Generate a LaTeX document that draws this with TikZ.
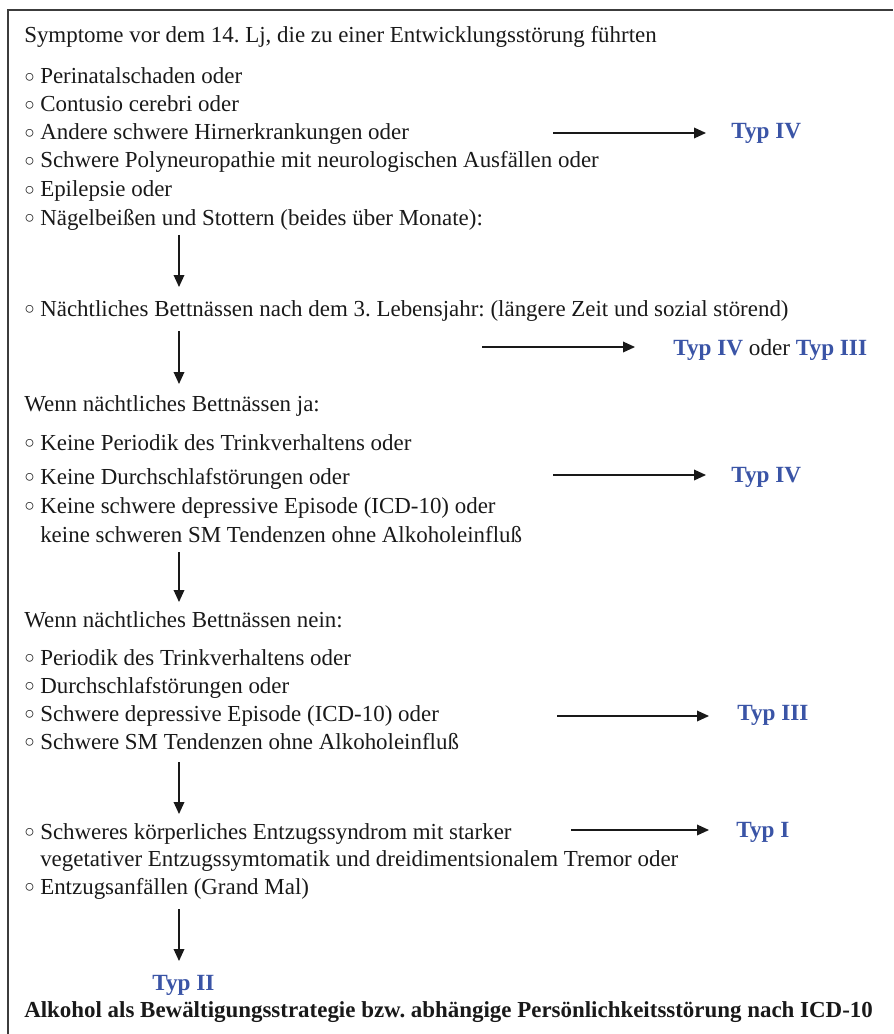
\documentclass[tikz,border=0pt]{standalone}
\usepackage{fontspec}
\setmainfont{Liberation Serif}
\usetikzlibrary{arrows.meta}
\frenchspacing
\definecolor{typblue}{RGB}{58,84,166}
\definecolor{framegray}{RGB}{60,60,60}
\newcommand{\bul}{\makebox[12pt][l]{\raisebox{0.8pt}{\fontsize{13pt}{13pt}\selectfont ○}}}
\tikzset{
  txt/.style={anchor=base west, inner sep=0pt, font=\fontsize{17.2pt}{20pt}\selectfont, text=black!90},
  bold/.style={txt, font=\fontsize{17.2pt}{20pt}\selectfont\bfseries},
  typ/.style={anchor=west, inner sep=0pt, font=\fontsize{17.4pt}{20pt}\selectfont\bfseries, text=typblue},
  arr/.style={draw=black!90, line width=1pt, -{Triangle[length=9pt,width=8pt]}},
  frame/.style={draw=framegray, line width=1.3pt}
}
\begin{document}
\begin{tikzpicture}[x=0.75pt,y=-0.75pt]
\useasboundingbox (0,0) rectangle (893,1034);
\draw[frame] (8,1034) -- (8,10) -- (893,10);

\node[txt] (title) at (24,43) {Symptome vor dem 14. Lj, die zu einer Entwicklungsstörung führten};
\node[txt] (i1) at (24,84) {\bul Perinatalschaden oder};
\node[txt] (i2) at (24,112) {\bul Contusio cerebri oder};
\node[txt] (i3) at (24,140) {\bul Andere schwere Hirnerkrankungen oder};
\node[txt] (i4) at (24,168) {\bul Schwere Polyneuropathie mit neurologischen Ausfällen oder};
\node[txt] (i5) at (24,197) {\bul Epilepsie oder};
\node[txt] (i6) at (24,225) {\bul Nägelbeißen und Stottern (beides über Monate):};

\node[typ] (t1) at (731,133) {Typ IV};
\coordinate (h1s) at (553,133);
\coordinate (h1e) at (706,133);
\draw[arr] (h1s) -- (h1e);

\coordinate (v1s) at (179,235);
\coordinate (v1e) at (179,287);
\draw[arr] (v1s) -- (v1e);

\node[txt] (b1) at (24,316) {\bul Nächtliches Bettnässen nach dem 3. Lebensjahr: (längere Zeit und sozial störend)};

\coordinate (h2s) at (482,347);
\coordinate (h2e) at (635,347);
\draw[arr] (h2s) -- (h2e);
\node[typ] (t2) at (673,350) {Typ IV \textcolor{black!90}{\mdseries oder} Typ III};

\coordinate (v2s) at (179,331);
\coordinate (v2e) at (179,384);
\draw[arr] (v2s) -- (v2e);

\node[txt] (ja) at (24,411) {Wenn nächtliches Bettnässen ja:};
\node[txt] (j1) at (24,450) {\bul Keine Periodik des Trinkverhaltens oder};
\node[txt] (j2) at (24,484) {\bul Keine Durchschlafstörungen oder};
\node[txt] (j3) at (24,513) {\bul Keine schwere depressive Episode (ICD-10) oder};
\node[txt] (j4) at (40,542) {keine schweren SM Tendenzen ohne Alkoholeinfluß};

\coordinate (h3s) at (553,475);
\coordinate (h3e) at (706,475);
\draw[arr] (h3s) -- (h3e);
\node[typ] (t3) at (731,477) {Typ IV};

\coordinate (v3s) at (179,552);
\coordinate (v3e) at (179,602);
\draw[arr] (v3s) -- (v3e);

\node[txt] (nein) at (24,627) {Wenn nächtliches Bettnässen nein:};
\node[txt] (n1) at (24,665) {\bul Periodik des Trinkverhaltens oder};
\node[txt] (n2) at (24,693) {\bul Durchschlafstörungen oder};
\node[txt] (n3) at (24,721) {\bul Schwere depressive Episode (ICD-10) oder};
\node[txt] (n4) at (24,749) {\bul Schwere SM Tendenzen ohne Alkoholeinfluß};

\coordinate (h4s) at (557,716);
\coordinate (h4e) at (709,716);
\draw[arr] (h4s) -- (h4e);
\node[typ] (t4) at (737,715) {Typ III};

\coordinate (v4s) at (179,762);
\coordinate (v4e) at (179,814);
\draw[arr] (v4s) -- (v4e);

\node[txt] (e1) at (24,839) {\bul Schweres körperliches Entzugssyndrom mit starker};
\node[txt] (e2) at (40,866) {vegetativer Entzugssymtomatik und dreidimentsionalem Tremor oder};
\node[txt] (e3) at (24,894) {\bul Entzugsanfällen (Grand Mal)};

\coordinate (h5s) at (571,830);
\coordinate (h5e) at (709,830);
\draw[arr] (h5s) -- (h5e);
\node[typ] (t5) at (736,832) {Typ I};

\coordinate (v5s) at (179,909);
\coordinate (v5e) at (179,961);
\draw[arr] (v5s) -- (v5e);

\node[typ] (t6) at (152,985) {Typ II};
\node[bold] (foot) at (24,1017) {Alkohol als Bewältigungsstrategie bzw. abhängige Persönlichkeitsstörung nach ICD-10};
\end{tikzpicture}
\end{document}
